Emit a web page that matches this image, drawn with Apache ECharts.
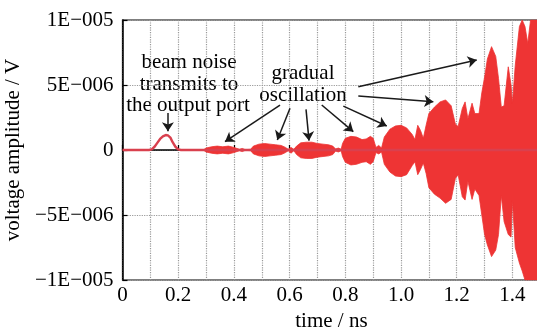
<!DOCTYPE html>
<html><head><meta charset="utf-8">
<script src="https://cdn.jsdelivr.net/npm/echarts@6/dist/echarts.min.js"></script>
<style>html,body{margin:0;padding:0;background:#fff}#c{width:537px;height:329px}</style>
</head><body><div id="c"></div>
<script>
// time in ns; voltage in units of 1E-6 V
const xTickLabels = ['0','0.2','0.4','0.6','0.8','1.0','1.2','1.4'];
const yTickLabels = ['\u22121E\u2212005','\u22125E\u2212006','0','5E\u2212006','1E\u2212005'];

// baseline trace with beam-noise bump
const traceT = [0, 0.095, 0.105, 0.115, 0.125, 0.135, 0.145, 0.155, 0.163, 0.172, 0.18, 0.19, 0.2, 0.21, 1.5];
const traceV = [0, 0, 0.05, 0.25, 0.55, 0.85, 1.05, 1.15, 1.12, 0.95, 0.6, 0.25, 0.05, 0, 0];

// oscillation envelope
const envT = [0.29,0.30,0.32,0.34,0.36,0.38,0.40,0.42,0.43,0.44,0.46,0.47,0.49,0.51,0.53,0.55,0.57,0.585,0.595,0.605,0.615,
  0.625,0.64,0.66,0.68,0.70,0.72,0.74,0.755,0.765,0.775,0.785,
  0.79,0.80,0.82,0.84,0.86,0.875,0.89,0.90,0.91,0.92,0.93,
  0.94,0.96,0.98,1.00,1.02,1.04,1.05,1.06,1.07,1.08,
  1.09,1.10,1.12,1.14,1.16,1.18,1.195,1.205,1.22,1.23,1.24,1.255,1.265,1.28,
  1.29,1.30,1.31,1.325,1.34,1.35,1.36,1.37,1.385,1.395,1.40,1.41,1.425,1.435,1.445,1.455,1.465,1.5];
const envUpper = [0,0.15,0.25,0.3,0.25,0.3,0.2,0.05,0.12,0.03,0.05,0.3,0.45,0.5,0.45,0.4,0.35,0.2,0.05,0.2,0.05,
  0.3,0.55,0.6,0.6,0.5,0.45,0.4,0.3,0.08,0.15,0.05,
  0.5,0.9,1.05,1.0,0.8,0.85,1.05,0.9,0.2,0.35,0.15,
  1.0,1.6,1.85,1.9,1.7,1.2,0.8,1.9,1.5,0.9,
  1.9,2.8,3.3,3.7,3.85,3.4,2.0,1.8,3.2,3.7,2.4,3.6,2.8,2.8,
  4.4,5.6,7.0,7.95,7.2,5.5,3.3,3.4,6.4,5.0,3.6,6.5,9.5,10,9.5,8.2,10,10];
const envLower = [0,-0.15,-0.25,-0.3,-0.25,-0.3,-0.2,-0.05,-0.12,-0.03,-0.05,-0.3,-0.45,-0.5,-0.45,-0.4,-0.35,-0.2,-0.05,-0.25,-0.05,
  -0.35,-0.6,-0.65,-0.65,-0.55,-0.5,-0.45,-0.35,-0.08,-0.15,-0.05,
  -0.5,-0.95,-1.15,-1.1,-0.95,-0.9,-1.1,-0.9,-0.2,-0.3,-0.15,
  -1.1,-1.7,-2.0,-2.05,-1.9,-1.2,-0.9,-1.9,-1.5,-1.0,
  -1.8,-2.9,-3.4,-3.7,-4.1,-3.8,-2.2,-1.9,-3.6,-3.85,-2.4,-3.8,-3.0,-3.5,
  -5.0,-6.5,-7.3,-8.2,-7.7,-6.5,-3.5,-5.5,-6.5,-6.7,-3.9,-7.5,-8.7,-9.3,-10,-10,-10,-10];

// annotation arrows [fromT, fromV, toT, toV]
const arrows = [
  [0.163, 2.85, 0.163, 1.45],
  [0.5655, 3.46, 0.368, 0.64],
  [0.6014, 3.21, 0.5558, 0.77],
  [0.6589, 3.13, 0.6697, 0.72],
  [0.7153, 3.46, 0.8287, 1.41],
  [0.7928, 3.38, 0.9487, 1.85],
  [0.8467, 4.15, 1.116, 3.72],
  [0.8467, 4.87, 1.2718, 6.92]
];

const FONT = 'Liberation Serif, Times New Roman, serif';
const RED = '#ee3434';
const chart = echarts.init(document.getElementById('c'));
const pair = (ts, vs) => ts.map((t, i) => [t, vs[i]]);

chart.setOption({
  animation: false,
  backgroundColor: '#fff',
  grid: {left: 122.5, right: -3.3, top: 20, bottom: 49, show: true, borderColor: '#000', borderWidth: 1.2,
    containLabel: false, outerBoundsMode: 'none'},
  xAxis: {
    type: 'value', min: 0, max: 1.5, interval: 0.2,
    name: 'time / ns', nameLocation: 'middle', nameGap: 29,
    nameTextStyle: {fontFamily: FONT, fontSize: 21, color: '#000'},
    axisLine: {show: true, lineStyle: {color: '#000', width: 1.5}},
    axisTick: {show: true, inside: true, length: 5, lineStyle: {color: '#000', width: 1.2}},
    axisLabel: {fontFamily: FONT, fontSize: 21, color: '#000', margin: 5, showMaxLabel: false, hideOverlap: false,
      formatter: v => xTickLabels[Math.round(v / 0.2)] ?? ''},
    splitLine: {show: true, lineStyle: {color: '#999', type: 'dotted', width: 1.2}},
    minorTick: {show: false, splitNumber: 2},
    minorSplitLine: {show: true, lineStyle: {color: '#999', type: 'dotted', width: 1.2}}
  },
  yAxis: {
    type: 'value', min: -10, max: 10, interval: 5,
    name: 'voltage amplitude / V', nameLocation: 'middle', nameGap: 95, nameRotate: 90,
    nameTextStyle: {fontFamily: FONT, fontSize: 21, color: '#000'},
    axisLine: {show: true, lineStyle: {color: '#000', width: 1.5}},
    axisTick: {show: true, inside: true, length: 5, lineStyle: {color: '#000', width: 1.2}},
    axisLabel: {fontFamily: FONT, fontSize: 21, color: '#000', margin: 9,
      formatter: v => yTickLabels[Math.round(v / 5) + 2] ?? ''},
    splitLine: {show: true, lineStyle: {color: '#999', type: 'dotted', width: 1.2}}
  },
  series: [
    {type: 'line', data: pair(envT, envUpper), showSymbol: false, z: 3,
      lineStyle: {color: RED, width: 0.8}, areaStyle: {color: RED, origin: 0, opacity: 1}},
    {type: 'line', data: pair(envT, envLower), showSymbol: false, z: 3,
      lineStyle: {color: RED, width: 0.8}, areaStyle: {color: RED, origin: 0, opacity: 1}},
    {type: 'line', data: pair(traceT, traceV), showSymbol: false, z: 4,
      lineStyle: {color: '#d9404e', width: 2.4},
      markLine: {silent: true, symbol: ['none', 'arrow'], symbolSize: 9, label: {show: false},
        lineStyle: {color: '#1a1a1a', width: 1.5, type: 'solid'},
        emphasis: {disabled: true},
        data: arrows.map(a => [{coord: [a[0], a[1]]}, {coord: [a[2], a[3]]}])}}
  ],
  graphic: [
    {type: 'text', x: 189, y: 62, style: {text: 'beam noise', fontFamily: FONT, fontSize: 21, fill: '#000', align: 'center', verticalAlign: 'middle'}},
    {type: 'text', x: 189, y: 84, style: {text: 'transmits to', fontFamily: FONT, fontSize: 21, fill: '#000', align: 'center', verticalAlign: 'middle'}},
    {type: 'text', x: 188, y: 105, style: {text: 'the output port', fontFamily: FONT, fontSize: 21, fill: '#000', align: 'center', verticalAlign: 'middle'}},
    {type: 'text', x: 303, y: 73, style: {text: 'gradual', fontFamily: FONT, fontSize: 21, fill: '#000', align: 'center', verticalAlign: 'middle'}},
    {type: 'text', x: 303, y: 95, style: {text: 'oscillation', fontFamily: FONT, fontSize: 21, fill: '#000', align: 'center', verticalAlign: 'middle'}}
  ]
});
</script></body></html>
